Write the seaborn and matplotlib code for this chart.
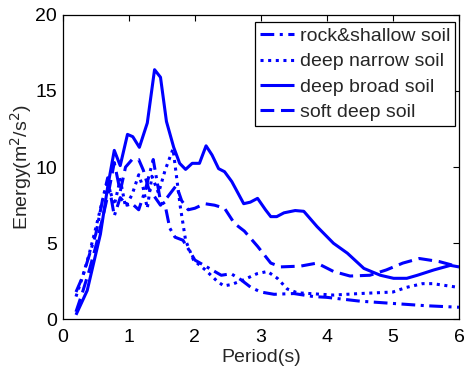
import matplotlib
matplotlib.use("Agg")
import matplotlib.pyplot as plt
import seaborn as sns
import pandas as pd

# ---- data ----
labels = ["rock&shallow soil", "deep narrow soil", "deep broad soil", "soft deep soil"]

rock_x = [0.2, 0.3, 0.4, 0.5, 0.6, 0.68, 0.78, 0.87, 0.97, 1.05, 1.15, 1.25, 1.37, 1.47, 1.55,
          1.62, 1.7, 1.82, 1.92, 2.0, 2.2, 2.4, 2.55, 2.7, 2.85, 3.0, 3.2, 3.5, 3.8, 4.0, 4.5,
          5.0, 5.5, 6.0]
rock_y = [1.8, 2.8, 4.2, 5.6, 7.8, 9.3, 6.8, 8.0, 7.5, 7.6, 7.2, 8.5, 10.5, 8.0, 7.5,
          6.0, 5.4, 5.2, 4.5, 3.9, 3.4, 2.9, 3.0, 2.6, 2.1, 1.8, 1.65, 1.7, 1.5, 1.45, 1.2,
          1.05, 0.9, 0.8]

narrow_x = [0.2, 0.3, 0.4, 0.5, 0.6, 0.68, 0.78, 0.87, 0.95, 1.05, 1.15, 1.22, 1.28, 1.35, 1.45,
            1.55, 1.67, 1.78, 1.86, 1.98, 2.16, 2.34, 2.44, 2.56, 2.74, 2.94, 3.1, 3.25, 3.4,
            3.55, 4.1, 4.5, 5.0, 5.2, 5.45, 5.6, 6.0]
narrow_y = [1.5, 2.8, 4.3, 6.0, 7.8, 9.0, 7.5, 9.2, 7.4, 8.2, 9.5, 8.6, 7.3, 9.4, 8.3,
            9.8, 11.2, 7.4, 5.2, 3.9, 3.25, 2.5, 2.2, 2.3, 2.6, 3.0, 3.15, 2.7, 2.0,
            1.75, 1.6, 1.7, 1.8, 2.1, 2.35, 2.35, 2.1]

broad_x = [0.2, 0.37, 0.57, 0.68, 0.78, 0.87, 0.98, 1.06, 1.16, 1.28, 1.39, 1.48, 1.57, 1.68,
           1.77, 1.86, 1.96, 2.07, 2.17, 2.26, 2.36, 2.45, 2.56, 2.74, 2.84, 2.95, 3.07, 3.15,
           3.24, 3.35, 3.52, 3.65, 3.85, 4.1, 4.31, 4.56, 4.81, 5.01, 5.21, 5.37, 5.62, 5.87, 6.0]
broad_y = [0.3, 1.9, 5.6, 8.7, 11.1, 10.1, 12.15, 12.0, 11.3, 12.9, 16.4, 15.9, 13.0, 11.3,
           10.25, 9.85, 10.25, 10.25, 11.4, 10.8, 9.9, 9.7, 9.05, 7.6, 7.7, 7.95, 7.2, 6.75,
           6.75, 7.0, 7.15, 7.1, 6.1, 5.0, 4.35, 3.35, 2.9, 2.7, 2.7, 2.9, 3.25, 3.55, 3.45]

soft_x = [0.2, 0.3, 0.4, 0.5, 0.6, 0.7, 0.78, 0.87, 0.95, 1.05, 1.15, 1.22, 1.3, 1.4, 1.48,
          1.58, 1.72, 1.8, 1.9, 2.0, 2.15, 2.3, 2.45, 2.6, 2.75, 2.95, 3.15, 3.3, 3.6, 3.85,
          4.1, 4.35, 4.65, 4.9, 5.15, 5.4, 5.7, 6.0]
soft_y = [0.5, 1.8, 3.2, 4.8, 6.6, 8.5, 10.3, 8.4, 10.0, 10.5, 10.5, 9.8, 8.6, 8.0, 7.5,
          8.0, 8.8, 7.8, 7.2, 7.3, 7.6, 7.5, 7.3, 6.3, 5.8, 4.8, 3.7, 3.45, 3.5, 3.7,
          3.15, 2.85, 2.9, 3.25, 3.7, 4.0, 3.8, 3.45]

xticks = [0, 1, 2, 3, 4, 5, 6]
yticks = [0, 5, 10, 15, 20]

# ---- style ----
sns.set_style("white")
plt.rcParams["font.family"] = ["Liberation Sans", "DejaVu Sans"]
plt.rcParams["font.size"] = 14

fig = plt.figure(figsize=(4.65, 3.71), dpi=100)
ax = fig.add_axes([0.135, 0.139, 0.852, 0.821])

series = [(rock_x, rock_y), (narrow_x, narrow_y), (broad_x, broad_y), (soft_x, soft_y)]
dash_patterns = [(4.5, 1.8, 1.0, 1.8), (1.0, 1.5), None, (4.5, 2.2)]

for (xs, ys), lab, dp in zip(series, labels, dash_patterns):
    df = pd.DataFrame({"Period": xs, "Energy": ys})
    sns.lineplot(data=df, x="Period", y="Energy", ax=ax, color="#0000ff",
                 linewidth=2.2, label=lab, sort=False)
    line = ax.lines[-1]
    if dp is not None:
        line.set_dashes(dp)
    line.set_dash_capstyle("butt")
    line.set_solid_capstyle("butt")

ax.set_xlim(0, 6)
ax.set_ylim(0, 20)
ax.set_xticks(xticks)
ax.set_yticks(yticks)
ax.tick_params(direction="in", top=True, right=True, length=4, width=0.8,
               labelsize=14, colors="black")
ax.tick_params(axis="x", pad=7)
ax.tick_params(axis="y", pad=4)
ax.set_xlabel("Period(s)", fontsize=14, labelpad=2)
ax.set_ylabel("Energy(m$^2$/s$^2$)", fontsize=14, labelpad=1)
for sp in ax.spines.values():
    sp.set_visible(True)
    sp.set_color("black")
    sp.set_linewidth(0.9)

leg = ax.legend(loc="upper right", bbox_to_anchor=(0.99, 0.975), fancybox=False,
                edgecolor="black", framealpha=1, fontsize=14, handlelength=1.75,
                handletextpad=0.3, labelspacing=0.4, borderpad=0.25, borderaxespad=0.0)
leg.get_frame().set_linewidth(0.9)
for h in leg.get_lines():
    h.set_linewidth(2.2)

fig.savefig("out.png", dpi=100)
